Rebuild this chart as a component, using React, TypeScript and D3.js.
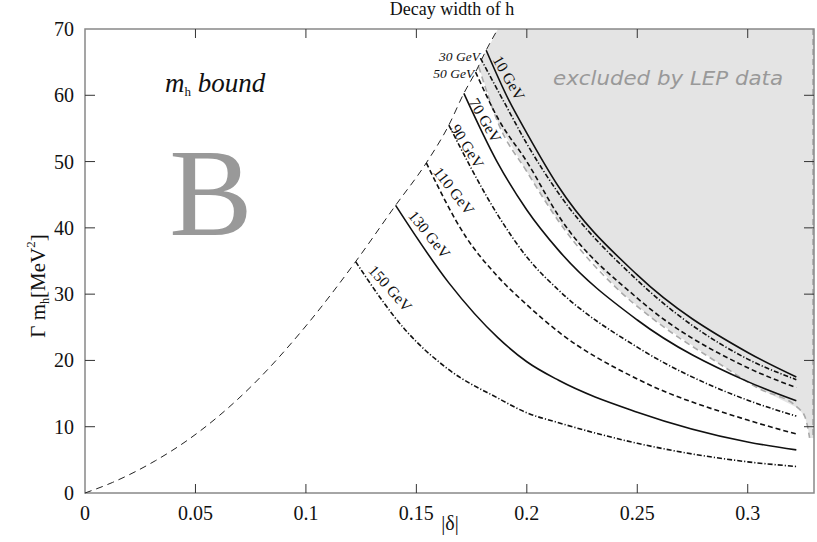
import React from "react";
import * as d3 from "d3";

// axis ticks
const xTicks = [0, 0.05, 0.1, 0.15, 0.2, 0.25, 0.3];
const xTickLabels = ["0", "0.05", "0.1", "0.15", "0.2", "0.25", "0.3"];
const yTicks = [0, 10, 20, 30, 40, 50, 60, 70];

// m_h bound (thin dashed envelope)   [|delta|, Gamma m_h]
const boundary: [number, number][] = [
  [0, 0], [0.0125, 1.6], [0.032, 4.9], [0.0457, 7.8], [0.075, 16], [0.1, 25.2],
  [0.1225, 34.9], [0.1406, 43.4], [0.1545, 49.8], [0.1647, 55.5], [0.1715, 60.3],
  [0.1768, 63.5], [0.1816, 66.8], [0.1869, 70],
];

// curves for each Higgs mass
const curve10: [number, number][] = [
  [0.1816, 66.8], [0.1918, 59.3], [0.2, 54.3], [0.2144, 46.2], [0.25, 32.9], [0.3, 21.2], [0.322, 17.5],
];
const curve30: [number, number][] = [
  [0.179, 65.6], [0.19, 58.8], [0.2, 52.7], [0.2144, 45.2], [0.25, 32.1], [0.3, 20.2], [0.322, 17.1],
];
const curve50: [number, number][] = [
  [0.1768, 63.5], [0.1873, 56.3], [0.2, 50.0], [0.2144, 41.8], [0.25, 29.4], [0.3, 18.9], [0.322, 15.9],
];
const curve70: [number, number][] = [
  [0.1715, 60.3], [0.1865, 50.0], [0.2, 42.7], [0.2144, 36.6], [0.25, 26.1], [0.3, 16.8], [0.322, 13.9],
];
const curve90: [number, number][] = [
  [0.1647, 55.5], [0.1873, 41.7], [0.2, 35.6], [0.2144, 30.6], [0.25, 22.0], [0.3, 14.0], [0.322, 11.6],
];
const curve110: [number, number][] = [
  [0.1545, 49.8], [0.1723, 38.7], [0.187, 32.6], [0.2, 28.4], [0.2144, 24.3], [0.25, 17.2], [0.3, 11.0], [0.322, 8.9],
];
const curve130: [number, number][] = [
  [0.1406, 43.4], [0.1647, 31.7], [0.187, 23.4], [0.2, 19.8], [0.2144, 17.0], [0.25, 12.2], [0.3, 7.7], [0.322, 6.5],
];
const curve150: [number, number][] = [
  [0.1225, 34.9], [0.145, 24.6], [0.1647, 18.6], [0.187, 14.3], [0.2, 12.1], [0.2144, 10.6], [0.25, 7.5], [0.3, 4.7], [0.322, 4.0],
];

// lower edge of the LEP excluded region
const lepEdge: [number, number][] = [
  [0.1782, 64.3], [0.1873, 55.6], [0.2, 48.5], [0.2144, 41.0], [0.2416, 30.6],
  [0.2566, 26.4], [0.2867, 19.6], [0.3048, 15.8], [0.3229, 12.8], [0.3259, 11.5],
  [0.3274, 9.5], [0.328, 8.3],
];

const series = [
  { name: "10 GeV", pts: curve10, dash: "none" },
  { name: "30 GeV", pts: curve30, dash: "5,2,1.2,2" },
  { name: "50 GeV", pts: curve50, dash: "5,3" },
  { name: "70 GeV", pts: curve70, dash: "none" },
  { name: "90 GeV", pts: curve90, dash: "5,2,1.2,2" },
  { name: "110 GeV", pts: curve110, dash: "5,3" },
  { name: "130 GeV", pts: curve130, dash: "none" },
  { name: "150 GeV", pts: curve150, dash: "5,2,1.2,2" },
];

// label anchors (data coords) and rotation
const rotatedLabels = [
  { text: "10 GeV", at: [0.1843, 65.4], angle: 60 },
  { text: "70 GeV", at: [0.1736, 59.0], angle: 60 },
  { text: "90 GeV", at: [0.1652, 55.0], angle: 58 },
  { text: "110 GeV", at: [0.1573, 48.4], angle: 52 },
  { text: "130 GeV", at: [0.146, 41.8], angle: 51 },
  { text: "150 GeV", at: [0.1279, 33.5], angle: 48 },
];
const flatLabels = [
  { text: "30 GeV", at: [0.1788, 65.2] },
  { text: "50 GeV", at: [0.1762, 62.6] },
];

const W = 817;
const H = 542;
const margin = { top: 29, right: 3, bottom: 49, left: 85 };
const serif = "'Liberation Serif', 'Times New Roman', serif";

export default function App() {
  const x = d3.scaleLinear().domain([0, 0.33]).range([margin.left, W - margin.right]);
  const y = d3.scaleLinear().domain([0, 70]).range([H - margin.bottom, margin.top]);

  const line = d3
    .line<[number, number]>()
    .x((d) => x(d[0]))
    .y((d) => y(d[1]))
    .curve(d3.curveMonotoneX);

  const shade: [number, number][] = [[0.1869, 70], [0.33, 70], [0.33, 8.3], ...lepEdge.slice().reverse()];
  const shadePath = d3
    .line<[number, number]>()
    .x((d) => x(d[0]))
    .y((d) => y(d[1]))(shade) + "Z";

  const x0 = x(0), x1 = x(0.33), y0 = y(0), y1 = y(70);

  return (
    <svg width={W} height={H} style={{ position: "absolute", left: 0, top: 0 }} fontFamily={serif}>
      <rect width={W} height={H} fill="#fff" />

      {/* excluded region */}
      <path d={shadePath} fill="#e4e4e4" stroke="none" />
      <path d={line(lepEdge) || ""} fill="none" stroke="#aaa" strokeWidth={1.6} strokeDasharray="6,4" />
      <line x1={x1 - 1} x2={x1 - 1} y1={y1} y2={y(8.3)} stroke="#aaa" strokeWidth={1.6} strokeDasharray="6,4" />

      {/* frame */}
      <rect x={x0} y={y1} width={x1 - x0} height={y0 - y1} fill="none" stroke="#888" strokeWidth={1.5} />

      {/* ticks */}
      {xTicks.map((t, i) => (
        <g key={"x" + i}>
          {i > 0 && <line x1={x(t)} x2={x(t)} y1={y0} y2={y0 - 9} stroke="#333" strokeWidth={1} />}
          {i > 0 && <line x1={x(t)} x2={x(t)} y1={y1} y2={y1 + 9} stroke="#333" strokeWidth={1} />}
          <text x={x(t)} y={520} textAnchor="middle" fontSize={20} fill="#111">
            {xTickLabels[i]}
          </text>
        </g>
      ))}
      {yTicks.map((t, i) => (
        <g key={"y" + i}>
          {i > 0 && i < yTicks.length - 1 && (
            <>
              <line x1={x0} x2={x0 + 10} y1={y(t)} y2={y(t)} stroke="#333" strokeWidth={1} />
              <line x1={x1} x2={x1 - 10} y1={y(t)} y2={y(t)} stroke="#333" strokeWidth={1} />
            </>
          )}
          <text x={74} y={y(t)} dy="0.35em" textAnchor="end" fontSize={20} fill="#111">
            {t}
          </text>
        </g>
      ))}

      {/* envelope */}
      <path d={line(boundary) || ""} fill="none" stroke="#222" strokeWidth={1} strokeDasharray="7,5" />

      {/* mass curves */}
      {series.map((s) => (
        <path
          key={s.name}
          d={line(s.pts) || ""}
          fill="none"
          stroke="#111"
          strokeWidth={1.6}
          strokeDasharray={s.dash}
        />
      ))}

      {rotatedLabels.map((l) => (
        <text
          key={l.text}
          transform={`translate(${x(l.at[0])},${y(l.at[1])}) rotate(${l.angle})`}
          fontSize={15.5}
          fill="#111"
        >
          {l.text}
        </text>
      ))}
      {flatLabels.map((l) => (
        <text key={l.text} x={x(l.at[0])} y={y(l.at[1])} textAnchor="end" fontSize={13.5} fontStyle="italic" fill="#111">
          {l.text}
        </text>
      ))}

      {/* annotations */}
      <text x={165} y={92} fontSize={27} fontStyle="italic" fill="#111">
        m
        <tspan fontSize={13} fontStyle="normal" dy={4}>h</tspan>
        <tspan dy={-4}> bound</tspan>
      </text>
      <text x={211} y={235} textAnchor="middle" fontSize={125} fill="#999">
        B
      </text>
      <text
        x={553}
        y={85}
        fontSize={20}
        fontStyle="italic"
        fontFamily="'DejaVu Sans', sans-serif"
        fill="#999"
        textLength={230}
        lengthAdjust="spacingAndGlyphs"
      >
        excluded by LEP data
      </text>

      {/* titles */}
      <text x={452} y={15} textAnchor="middle" fontSize={18} fill="#111">
        Decay width of h
      </text>
      <text x={450} y={530} textAnchor="middle" fontSize={20} fill="#111">
        |δ|
      </text>
      <text transform="translate(45,286) rotate(-90)" textAnchor="middle" fontSize={21} fill="#111">
        Γ m
        <tspan fontSize={12} dy={4}>h</tspan>
        <tspan dy={-4}>[MeV</tspan>
        <tspan fontSize={13} dy={-10}>2</tspan>
        <tspan dy={10}>]</tspan>
      </text>
    </svg>
  );
}
